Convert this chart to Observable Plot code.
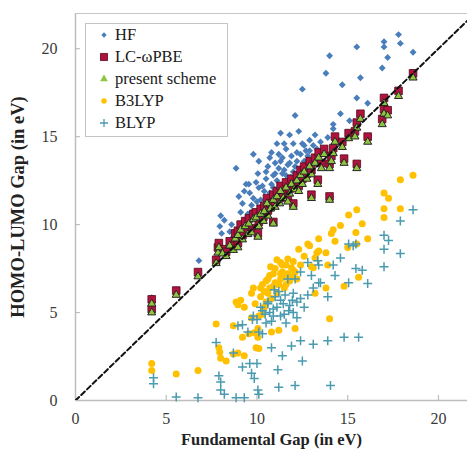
<!DOCTYPE html>
<html>
<head>
<meta charset="utf-8">
<script src="https://cdn.jsdelivr.net/npm/d3@7"></script>
<script src="https://cdn.jsdelivr.net/npm/@observablehq/plot@0.6"></script>
<style>
  body { margin: 0; background: #fff; }
  #wrap { position: relative; width: 467px; height: 456px; }
  #legend { position: absolute; left: 85px; top: 23px; width: 143px; height: 114px;
            border: 1px solid #c4c4c4; background: #fff; box-sizing: border-box;
            font-family: "Liberation Serif", "Times New Roman", serif; font-size: 16.5px; color: #1a1a1a; }
  .item { position: absolute; left: 0; height: 22px; display: flex; align-items: center; }
  .item svg { width: 14px; height: 14px; margin-left: 11px; margin-right: 4px; }
</style>
</head>
<body>
<div id="wrap"><div id="chart"></div><div id="legend"></div></div>
<script>
// Series names (legend order)
const seriesNames = ["HF", "LC-ωPBE", "present scheme", "B3LYP", "BLYP"];
const xTicks = [0, 5, 10, 15, 20];
const yTicks = [0, 5, 10, 15, 20];
const diagLine = [0, 22];

// Molecules near the diagonal: fundamental gap, present scheme gap, LC-ωPBE gap (eV)
const diagX = [4.2,4.2,5.55,6.75,7.75,7.85,7.9,8.1,8.3,8.5,8.7,8.8,8.95,8.95,9.1,9.2,9.35,9.5,9.55,9.7,
  9.8,9.95,10.05,10.1,10.2,10.35,10.4,10.55,10.6,10.75,10.9,10.9,11.0,11.1,11.25,11.3,11.45,11.6,11.7,11.8,
  11.9,12.0,12.05,12.2,12.3,12.4,12.5,12.6,12.75,12.9,13.0,13.0,13.2,13.35,13.4,13.55,13.7,14.0,14.0,14.1,
  14.2,14.3,14.7,14.8,15.05,15.4,15.5,15.5,15.7,16.1,16.9,17.0,17.0,17.2,17.8,18.6];
const psY = [5.0,5.5,6.0,7.05,7.8,8.4,8.7,8.35,8.2,8.8,8.55,9.2,8.7,9.4,9.7,9.15,9.9,9.45,10.05,9.55,
  10.3,10.4,9.3,9.9,10.6,10.2,10.75,11.2,10.5,10.9,10.05,11.4,11.0,11.6,11.2,11.9,11.5,12.1,11.3,11.75,
  12.3,11.0,12.0,12.5,11.9,12.8,12.3,13.0,12.6,13.3,11.5,12.85,13.5,12.3,13.8,13.2,14.0,11.4,13.2,13.6,
  14.05,14.7,14.4,13.5,14.9,15.0,13.2,15.5,16.0,14.7,15.7,16.9,16.3,16.2,17.3,18.35];
const lcY = [5.2,5.75,6.25,7.3,8.0,8.7,8.95,8.6,8.45,9.05,8.8,9.5,8.95,9.65,10.0,9.4,10.2,9.7,10.35,9.8,
  10.6,10.7,9.5,10.15,10.9,10.45,11.05,11.5,10.8,11.2,10.15,11.7,11.3,11.9,11.5,12.2,11.8,12.4,11.55,12.05,
  12.6,11.2,12.3,12.8,12.2,13.1,12.6,13.3,12.9,13.6,11.7,13.1,13.8,12.55,14.1,13.5,14.3,11.6,13.45,13.9,
  14.35,15.0,14.7,13.75,15.2,15.3,13.45,15.8,16.3,15.0,16.0,17.2,16.55,16.5,17.6,18.6];

// HF: [fundamental gap, HOMO-LUMO gap]
const hf = [[4.2,5.85],[5.55,6.3],[6.8,7.95],[7.95,9.9],[8.0,10.5],[8.05,9.5],[8.2,10.25],[8.5,9.6],[8.6,10.0],[8.7,9.3],
  [8.85,13.2],[9.0,11.6],[9.1,10.7],[9.2,11.2],[9.3,11.9],[9.4,12.3],[9.5,10.6],[9.55,12.3],[9.6,11.8],[9.7,10.7],
  [9.7,11.1],[9.8,11.5],[9.8,14.0],[9.95,12.4],[10.0,11.3],[10.05,12.9],[10.1,12.1],[10.1,13.6],[10.2,11.4],[10.3,10.9],
  [10.3,12.2],[10.4,11.9],[10.5,12.6],[10.5,13.0],[10.6,13.3],[10.7,11.8],[10.7,13.8],[10.8,12.3],[10.8,14.1],[10.9,12.8],
  [10.9,12.1],[11.0,13.5],[11.0,12.9],[11.1,12.5],[11.1,14.6],[11.2,14.0],[11.2,13.2],[11.3,13.6],[11.3,15.2],[11.4,12.9],
  [11.4,13.8],[11.5,13.1],[11.5,14.6],[11.6,14.3],[11.6,12.8],[11.7,13.4],[11.8,15.1],[11.8,13.5],[11.85,12.7],[11.9,13.9],
  [12.0,14.6],[12.0,13.0],[12.1,16.2],[12.1,13.3],[12.2,14.1],[12.2,13.6],[12.3,12.9],[12.3,15.3],[12.4,14.0],[12.4,13.2],
  [12.5,14.6],[12.5,17.7],[12.6,13.6],[12.6,14.5],[12.7,14.2],[12.8,13.9],[12.9,14.8],[12.9,14.2],[13.0,13.5],[13.1,14.5],
  [13.2,15.1],[13.3,14.3],[13.5,14.7],[13.8,18.6],[13.9,14.95],[14.0,19.6],[14.2,15.7],[14.2,15.45],[14.6,16.3],[14.7,17.95],
  [15.1,15.9],[15.5,20.1],[15.5,17.2],[15.7,18.35],[16.1,16.9],[16.9,18.9],[17.0,20.4],[17.0,20.1],[17.2,19.5],[17.8,20.8],
  [17.9,20.3],[18.6,19.8]];

// B3LYP: [fundamental gap, HOMO-LUMO gap]
const b3lyp = [[4.2,2.1],[4.2,1.7],[5.55,1.5],[6.75,1.7],[7.75,4.35],[7.9,3.0],[7.95,2.75],[8.0,2.4],[8.3,2.25],[8.7,4.25],
  [8.7,2.65],[8.95,2.7],[8.85,5.6],[8.95,5.45],[9.1,5.7],[9.2,3.6],[9.3,2.55],[9.3,5.3],[9.55,3.8],[9.7,4.7],
  [9.7,6.1],[9.8,6.4],[9.85,3.85],[9.9,5.5],[9.95,3.0],[10.05,4.1],[10.05,3.6],[10.1,4.8],[10.1,2.95],[10.2,5.9],
  [10.2,6.4],[10.3,4.9],[10.3,6.6],[10.4,6.2],[10.4,5.3],[10.5,5.6],[10.5,6.8],[10.6,6.9],[10.6,6.1],[10.7,6.4],
  [10.7,7.1],[10.75,7.6],[10.8,3.9],[10.8,5.8],[10.9,7.2],[10.9,6.5],[11.0,6.7],[11.0,7.5],[11.1,6.1],[11.1,8.0],
  [11.2,4.0],[11.2,6.6],[11.3,7.85],[11.3,6.9],[11.3,7.2],[11.4,7.3],[11.4,7.7],[11.5,7.0],[11.5,6.4],[11.6,7.7],
  [11.6,6.6],[11.7,8.05],[11.7,7.2],[11.8,6.8],[11.9,7.55],[11.9,7.0],[12.0,7.9],[12.0,7.4],[12.1,4.1],[12.1,7.3],
  [12.2,6.9],[12.3,8.6],[12.4,7.7],[12.6,8.2],[12.8,8.9],[12.9,8.8],[13.0,7.6],[13.1,7.55],[13.2,8.1],[13.2,6.1],
  [13.3,8.4],[13.4,8.5],[13.4,9.2],[13.8,8.4],[13.8,6.4],[13.9,7.7],[14.0,4.65],[14.1,9.5],[14.2,9.7],[14.3,9.05],
  [14.6,9.95],[14.8,6.5],[15.0,8.7],[15.05,10.55],[15.45,9.55],[15.5,10.85],[15.5,8.9],[15.6,7.0],[15.8,10.05],[16.1,9.2],
  [17.0,11.8],[17.0,10.9],[17.0,10.4],[17.25,11.5],[17.9,12.55],[17.9,10.9],[18.6,12.8]];

// BLYP: [fundamental gap, HOMO-LUMO gap]
const blyp = [[4.3,1.3],[4.3,0.95],[5.55,0.2],[6.75,0.15],[7.75,3.3],[7.9,1.4],[8.0,1.05],[8.0,0.6],[8.2,0.35],[8.7,2.7],
  [8.85,0.15],[8.95,4.25],[9.2,4.3],[9.2,1.9],[9.3,0.15],[9.5,3.9],[9.6,2.1],[9.7,1.55],[9.75,4.6],[9.8,4.8],
  [9.85,1.25],[10.0,2.1],[10.0,4.6],[10.05,0.6],[10.1,0.35],[10.1,3.9],[10.2,5.3],[10.3,3.8],[10.3,5.1],[10.45,4.9],
  [10.5,4.4],[10.6,5.5],[10.6,5.6],[10.7,5.0],[10.8,3.0],[10.8,4.5],[10.9,5.2],[10.9,4.8],[10.95,6.3],[11.0,5.9],
  [11.1,5.3],[11.15,1.75],[11.2,0.75],[11.2,6.2],[11.3,4.8],[11.3,5.7],[11.4,2.55],[11.45,5.5],[11.5,4.9],[11.55,6.0],
  [11.6,4.4],[11.7,6.9],[11.75,5.1],[11.8,5.4],[11.9,3.1],[11.95,5.7],[12.0,6.1],[12.0,5.0],[12.1,6.9],[12.1,0.85],
  [12.2,4.7],[12.2,5.6],[12.4,7.3],[12.4,5.8],[12.4,3.4],[12.5,2.25],[12.6,5.3],[12.8,6.0],[12.8,7.85],[13.0,7.1],
  [13.1,6.4],[13.1,3.2],[13.35,7.95],[13.4,7.7],[13.4,6.7],[13.5,6.7],[13.9,5.9],[13.9,3.4],[14.05,0.85],[14.2,7.7],
  [14.3,7.1],[14.6,8.1],[14.8,3.6],[15.05,8.9],[15.05,6.7],[15.3,8.8],[15.45,7.5],[15.45,8.9],[15.6,3.6],[15.8,7.4],
  [16.1,6.65],[17.0,9.4],[17.0,8.6],[17.0,7.6],[17.25,9.1],[17.9,10.2],[17.9,8.35],[18.6,10.85]];

const colors = { hf: "#4a7ebb", lc: "#b3123e", lcStroke: "#4d0a1c", ps: "#8ec63f", psStroke: "#262626", b3: "#ffc000", bl: "#4a9ab0" };
const serif = "'Liberation Serif', 'Times New Roman', serif";

const diag = diagX.map((x, i) => ({x, ps: psY[i], lc: lcY[i]}));

const chart = Plot.plot({
  width: 467,
  height: 456,
  marginLeft: 75,
  marginRight: 0,
  marginTop: 13,
  marginBottom: 56,
  x: { domain: [0, 21.6] },
  y: { domain: [0, 22] },
  style: { fontFamily: serif, background: "#fff" },
  marks: [
    Plot.ruleY([22], { stroke: "#c8c8c8", strokeWidth: 1.2 }),
    Plot.ruleX([0], { stroke: "#bdbdbd", strokeWidth: 1.5 }),
    Plot.ruleY([0], { stroke: "#bdbdbd", strokeWidth: 1.5 }),
    Plot.ruleY(yTicks.slice(1), { x1: 0, x2: 0.27, stroke: "#bdbdbd", strokeWidth: 1.2 }),
    Plot.ruleX(xTicks.slice(1), { y1: 0, y2: 0.28, stroke: "#bdbdbd", strokeWidth: 1.2 }),
    Plot.axisY({ ticks: yTicks, tickSize: 0, tickPadding: 18, fontSize: 16, fontFamily: serif, fill: "#3a3a3a", label: null }),
    Plot.axisX({ ticks: xTicks, tickSize: 0, tickPadding: 12, fontSize: 16, fontFamily: serif, fill: "#3a3a3a", label: null }),
    Plot.text(["Fundamental Gap (in eV)"], { frameAnchor: "bottom", dy: 39, lineAnchor: "middle", textAnchor: "middle", fontSize: 16.5, fontFamily: serif, fontWeight: "bold", fill: "#222" }),
    Plot.text(["HOMO-LUMO Gap (in eV)"], { frameAnchor: "left", dx: -57, rotate: -90, textAnchor: "middle", lineAnchor: "middle", fontSize: 18.5, fontFamily: serif, fontWeight: "bold", fill: "#222" }),
    Plot.dot(hf, { x: d => d[0], y: d => d[1], symbol: "diamond2", r: 3.1, fill: colors.hf, stroke: "none" }),
    Plot.dot(diag, { x: "x", y: "lc", symbol: "square", r: 4.3, fill: colors.lc, stroke: colors.lcStroke, strokeWidth: 0.8 }),
    Plot.dot(diag, { x: "x", y: "ps", symbol: "triangle", r: 3.0, fill: colors.ps, stroke: colors.psStroke, strokeWidth: 1 }),
    Plot.dot(b3lyp, { x: d => d[0], y: d => d[1], symbol: "circle", r: 3.5, fill: colors.b3, stroke: "none" }),
    Plot.dot(blyp, { x: d => d[0], y: d => d[1], symbol: "plus", r: 3.0, stroke: colors.bl, strokeWidth: 1.5 }),
    Plot.line(diagLine, { x: d => d, y: d => d, stroke: "#111", strokeWidth: 2, strokeDasharray: "5,3", clip: true })
  ]
});
document.getElementById("chart").appendChild(chart);

// Legend inside the plot area
const legendSpecs = [
  { sym: d3.symbolDiamond2, size: 18, fill: colors.hf, stroke: "none", sw: 0 },
  { sym: d3.symbolSquare, size: 50, fill: colors.lc, stroke: colors.lcStroke, sw: 0.8 },
  { sym: d3.symbolTriangle, size: 26, fill: colors.ps, stroke: "none", sw: 0 },
  { sym: d3.symbolCircle, size: 24, fill: colors.b3, stroke: "none", sw: 0 },
  { sym: d3.symbolPlus, size: 24, fill: "none", stroke: colors.bl, sw: 1.3 }
];
const legend = document.getElementById("legend");
seriesNames.forEach((name, i) => {
  const s = legendSpecs[i];
  const item = document.createElement("div");
  item.className = "item";
  item.style.top = (i * 22) + "px";
  const path = d3.symbol(s.sym, s.size)();
  item.innerHTML = `<svg viewBox="-7 -7 14 14"><path d="${path}" fill="${s.fill}" stroke="${s.stroke}" stroke-width="${s.sw}"/></svg><span>${name}</span>`;
  legend.appendChild(item);
});
</script>
</body>
</html>
